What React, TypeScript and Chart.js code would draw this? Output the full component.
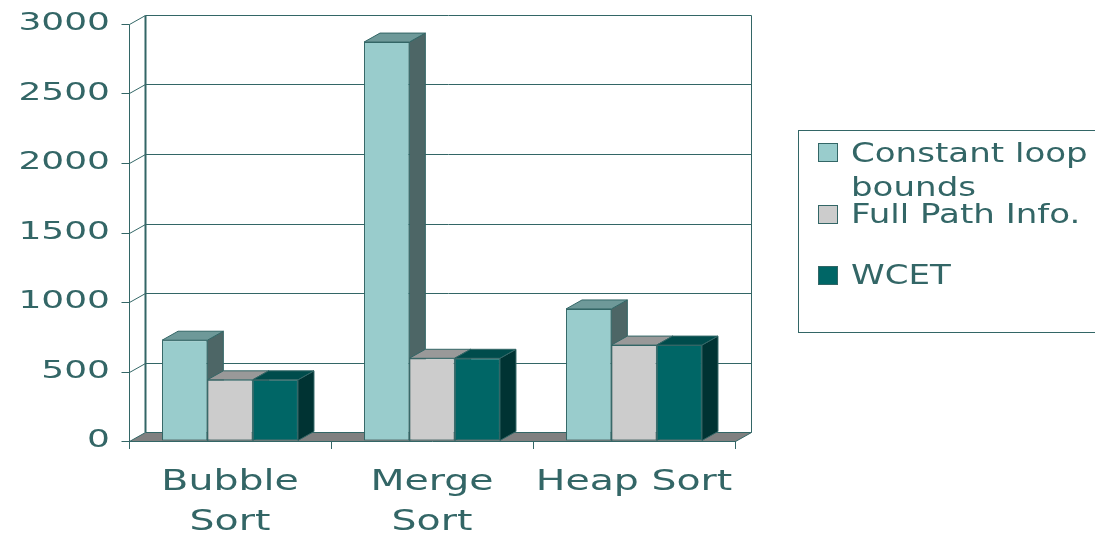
import React, { useEffect, useRef } from 'react';
import { Chart, registerables } from 'chart.js';

Chart.register(...registerables);

// ---- data ----
const categories: (string | string[])[] = [['Bubble', 'Sort'], ['Merge', 'Sort'], 'Heap Sort'];
const seriesNames = ['Constant loop bounds', 'Full Path Info.', 'WCET'];
const legendLines = [['Constant loop', 'bounds'], ['Full Path Info.'], ['WCET']];
const constantLoop = [725, 2870, 950];
const fullPath = [440, 595, 690];
const wcet = [440, 595, 690];
const yMin = 0;
const yMax = 3000;
const yStep = 500;

// ---- style ----
const FRONT = ['#99CCCC', '#CCCCCC', '#006666'];
const TOP = ['#6E9999', '#999999', '#004C4C'];
const SIDE = ['#4D6666', '#808080', '#003333'];
const LINE = '#336666';
const FLOOR = '#808080';
const DX = 16;
const DY = -9;
const FONT = '"DejaVu Sans", "Liberation Sans", sans-serif';

// draw text stretched horizontally (the reference uses a wide face)
function withStretch(ctx: any, sx: number, fn: () => void) {
  const proto = Object.getPrototypeOf(ctx);
  const origFill = proto.fillText;
  ctx.fillText = function (text: string, x: number, y: number, maxWidth?: number) {
    this.save();
    this.translate(x, y);
    this.scale(sx, 1);
    if (maxWidth === undefined) origFill.call(this, text, 0, 0);
    else origFill.call(this, text, 0, 0, maxWidth / sx);
    this.restore();
  };
  try {
    fn();
  } finally {
    delete ctx.fillText;
  }
}

function patchLabels(scale: any, sx: number) {
  if (scale.__stretchPatched) return;
  const orig = scale.drawLabels.bind(scale);
  scale.drawLabels = (area: any) => withStretch(scale.ctx, sx, () => orig(area));
  scale.__stretchPatched = true;
}

function poly(ctx: CanvasRenderingContext2D, pts: number[][]) {
  ctx.beginPath();
  ctx.moveTo(pts[0][0], pts[0][1]);
  for (let i = 1; i < pts.length; i++) ctx.lineTo(pts[i][0], pts[i][1]);
  ctx.closePath();
}

const threeD = {
  id: 'threeD',
  afterLayout(chart: any) {
    patchLabels(chart.scales.x, 1.36);
    patchLabels(chart.scales.y, 1.5);
  },
  beforeDraw(chart: any) {
    const { ctx, chartArea: a, scales } = chart;
    const y = scales.y;
    const L = Math.round(a.left) + 0.5;
    const R = Math.round(a.right) + 0.5;
    const B = Math.round(y.getPixelForValue(yMin)) + 0.5;
    const T = Math.round(y.getPixelForValue(yMax)) + 0.5;
    ctx.save();
    // floor
    ctx.fillStyle = FLOOR;
    poly(ctx, [[L, B], [R, B], [R + DX, B + DY], [L + DX, B + DY]]);
    ctx.fill();
    ctx.strokeStyle = LINE;
    ctx.lineWidth = 1;
    ctx.beginPath();
    ctx.moveTo(R, B);
    ctx.lineTo(R + DX, B + DY);
    ctx.stroke();
    // gridlines on back wall + side connectors + tick marks
    for (const t of y.ticks) {
      const py = Math.round(y.getPixelForValue(t.value)) + 0.5;
      ctx.beginPath();
      ctx.moveTo(L + DX, py + DY);
      ctx.lineTo(R + DX, py + DY);
      ctx.moveTo(L, py);
      ctx.lineTo(L + DX, py + DY);
      ctx.moveTo(L - 8, py);
      ctx.lineTo(L, py);
      ctx.stroke();
    }
    // wall edges
    ctx.beginPath();
    ctx.moveTo(R + DX, T + DY);
    ctx.lineTo(R + DX, B + DY);
    ctx.stroke();
    ctx.lineWidth = 2;
    ctx.beginPath();
    ctx.moveTo(L + DX, T + DY);
    ctx.lineTo(L + DX, B + DY);
    ctx.stroke();
    // front value axis
    ctx.lineWidth = 1;
    ctx.beginPath();
    ctx.moveTo(L, T);
    ctx.lineTo(L, B);
    ctx.stroke();
    ctx.restore();
  },
  beforeDatasetsDraw(chart: any) {
    const ctx = chart.ctx;
    const n = chart.data.datasets.length;
    ctx.save();
    ctx.strokeStyle = LINE;
    ctx.lineWidth = 1;
    // sides first
    for (let d = 0; d < n; d++) {
      const meta = chart.getDatasetMeta(d);
      meta.data.forEach((bar: any) => {
        const r = bar.x + bar.width / 2;
        const top = bar.y;
        const bot = bar.base;
        ctx.fillStyle = SIDE[d];
        poly(ctx, [[r, top], [r + DX, top + DY], [r + DX, bot + DY], [r, bot]]);
        ctx.fill();
        ctx.stroke();
      });
    }
    // then tops
    for (let d = 0; d < n; d++) {
      const meta = chart.getDatasetMeta(d);
      meta.data.forEach((bar: any) => {
        const l = bar.x - bar.width / 2;
        const r = bar.x + bar.width / 2;
        const top = bar.y;
        ctx.fillStyle = TOP[d];
        poly(ctx, [[l, top], [r, top], [r + DX, top + DY], [l + DX, top + DY]]);
        ctx.fill();
        ctx.stroke();
      });
    }
    ctx.restore();
  },
  afterDraw(chart: any) {
    const ctx = chart.ctx as any;
    ctx.save();
    ctx.strokeStyle = LINE;
    ctx.lineWidth = 1;
    ctx.strokeRect(798.5, 130.5, 400, 202);
    const boxY = [143.5, 205.5, 266.5];
    const baselines = [[162, 196], [223], [284]];
    ctx.font = `26px ${FONT}`;
    ctx.textBaseline = 'alphabetic';
    ctx.textAlign = 'left';
    chart.data.datasets.forEach((ds: any, i: number) => {
      ctx.fillStyle = FRONT[i];
      ctx.fillRect(818.5, boxY[i], 19, 18);
      ctx.strokeStyle = LINE;
      ctx.strokeRect(818.5, boxY[i], 19, 18);
      ctx.fillStyle = LINE;
      withStretch(ctx, 1.31, () => {
        legendLines[i].forEach((line, k) => {
          ctx.fillText(line, 851, baselines[i][k]);
        });
      });
    });
    ctx.restore();
  },
};

export default function App() {
  const ref = useRef<HTMLCanvasElement | null>(null);
  useEffect(() => {
    if (!ref.current) return;
    const chart = new Chart(ref.current, {
      type: 'bar',
      data: {
        labels: categories as any,
        datasets: [
          { label: seriesNames[0], data: constantLoop, backgroundColor: FRONT[0], borderColor: LINE, borderWidth: 1, borderSkipped: false },
          { label: seriesNames[1], data: fullPath, backgroundColor: FRONT[1], borderColor: LINE, borderWidth: 1, borderSkipped: false },
          { label: seriesNames[2], data: wcet, backgroundColor: FRONT[2], borderColor: LINE, borderWidth: 1, borderSkipped: false },
        ],
      },
      options: {
        responsive: true,
        maintainAspectRatio: false,
        animation: false,
        events: [],
        layout: { padding: { top: 24, right: 360, left: 0, bottom: 0 } },
        datasets: { bar: { categoryPercentage: 0.673, barPercentage: 1 } },
        plugins: {
          legend: { display: false },
          title: { display: false },
          tooltip: { enabled: false },
        },
        scales: {
          x: {
            offset: true,
            grid: { display: true, drawOnChartArea: false, drawTicks: true, tickLength: 8, color: LINE, offset: true },
            border: { display: true, color: LINE, width: 1 },
            ticks: {
              color: LINE,
              font: { family: FONT, size: 29, lineHeight: 1.4 },
              padding: 13,
              maxRotation: 0,
              minRotation: 0,
              autoSkip: false,
            },
            afterFit: (s: any) => { s.height = 95; },
          },
          y: {
            min: yMin,
            max: yMax,
            grid: { display: true, drawOnChartArea: false, drawTicks: true, tickLength: 19, color: 'rgba(0,0,0,0)' },
            border: { display: false },
            ticks: {
              stepSize: yStep,
              color: LINE,
              font: { family: FONT, size: 24 },
              padding: 0,
              callback: (v: any) => String(v),
            },
            afterFit: (s: any) => { s.width = 129; },
          },
        },
      },
      plugins: [threeD],
    });
    return () => chart.destroy();
  }, []);
  return (
    <div style={{ position: 'fixed', left: 0, top: 0, width: 1095, height: 536 }}>
      <canvas ref={ref} />
    </div>
  );
}
